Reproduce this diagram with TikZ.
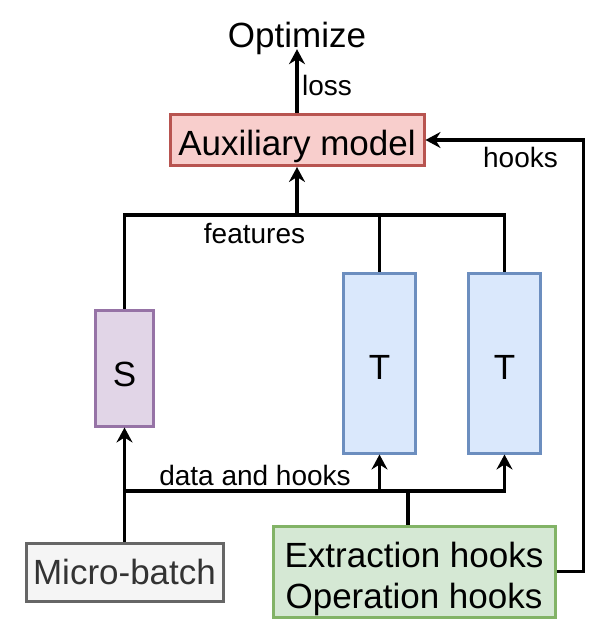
\documentclass[tikz,border=0pt]{standalone}
\usepackage{fontspec}
\setmainfont{Liberation Sans}
\usetikzlibrary{arrows.meta}
\definecolor{auxfill}{HTML}{F8CECC}
\definecolor{auxdraw}{HTML}{B85450}
\definecolor{sfill}{HTML}{E1D5E7}
\definecolor{sdraw}{HTML}{9673A6}
\definecolor{tfill}{HTML}{DAE8FC}
\definecolor{tdraw}{HTML}{6C8EBF}
\definecolor{mbfill}{HTML}{F5F5F5}
\definecolor{mbdraw}{HTML}{666666}
\definecolor{mbtext}{HTML}{333333}
\definecolor{gfill}{HTML}{D5E8D4}
\definecolor{gdraw}{HTML}{82B366}
\begin{document}
\begin{tikzpicture}[x=1pt,y=-1pt,
  box/.style={draw, line width=3pt, inner sep=0pt, text depth=0pt, font=\fontsize{35}{41}\selectfont},
  big/.style={font=\fontsize{35}{41}\selectfont, inner sep=0pt},
  lbl/.style={font=\fontsize{28}{32}\selectfont, inner sep=0pt, text height=20pt, text depth=0pt},
  conn/.style={line width=3.2pt},
  arr/.style={conn, -{Stealth[length=15pt,width=16pt,inset=5pt]}}
]
\useasboundingbox (0,0) rectangle (610,640);
\node[big, text height=25pt, text depth=0pt] (opt) at (297,34.5) {Optimize};
\node[box, fill=auxfill, draw=auxdraw, minimum width=254pt, minimum height=51pt, text height=31pt] (aux) at (297,140) {Auxiliary model};
\node[box, fill=sfill, draw=sdraw, minimum width=58pt, minimum height=116pt, text height=37pt] (S) at (124.5,368) {S};
\node[box, fill=tfill, draw=tdraw, minimum width=72pt, minimum height=180pt, text height=32pt] (T1) at (379.5,363) {T};
\node[box, fill=tfill, draw=tdraw, minimum width=72pt, minimum height=180pt, text height=32pt] (T2) at (504.5,363) {T};
\node[box, fill=mbfill, draw=mbdraw, text=mbtext, minimum width=197pt, minimum height=58pt, text height=25pt] (mb) at (124.5,572) {Micro-batch};
\node[box, fill=gfill, draw=gdraw, minimum width=282pt, minimum height=91pt] (hk) at (414,571.5) {};
\node[big, align=center] (hkt) at (414,579) {Extraction hooks\\Operation hooks};
\coordinate (fb) at (297,215);
\coordinate (db) at (408,491);
% top
\draw[arr] (aux.north) -- ([yshift=-2pt]opt.south);
\node[lbl, anchor=west] (lossl) at (302,85) {loss};
% features
\draw[conn] (S.north) |- (fb) -| (T2.north);
\draw[conn] (T1.north) -- (T1.north |- fb);
\draw[arr] (fb) -- (aux.south);
\node[lbl] (featl) at (254.5,233.5) {features};
% data and hooks
\draw[arr] (mb.north) -- (S.south);
\draw[arr] (mb.north |- db) -| (T2.south);
\draw[arr] (T1.south |- db) -- (T1.south);
\draw[conn] (hk.north -| db) -- (db);
\node[lbl] (datal) at (255,475.5) {data and hooks};
% hooks
\draw[arr] (hk.east) -- ++(27,0) |- (aux.east);
\node[lbl] (hookl) at (520.5,157) {hooks};
\end{tikzpicture}
\end{document}
